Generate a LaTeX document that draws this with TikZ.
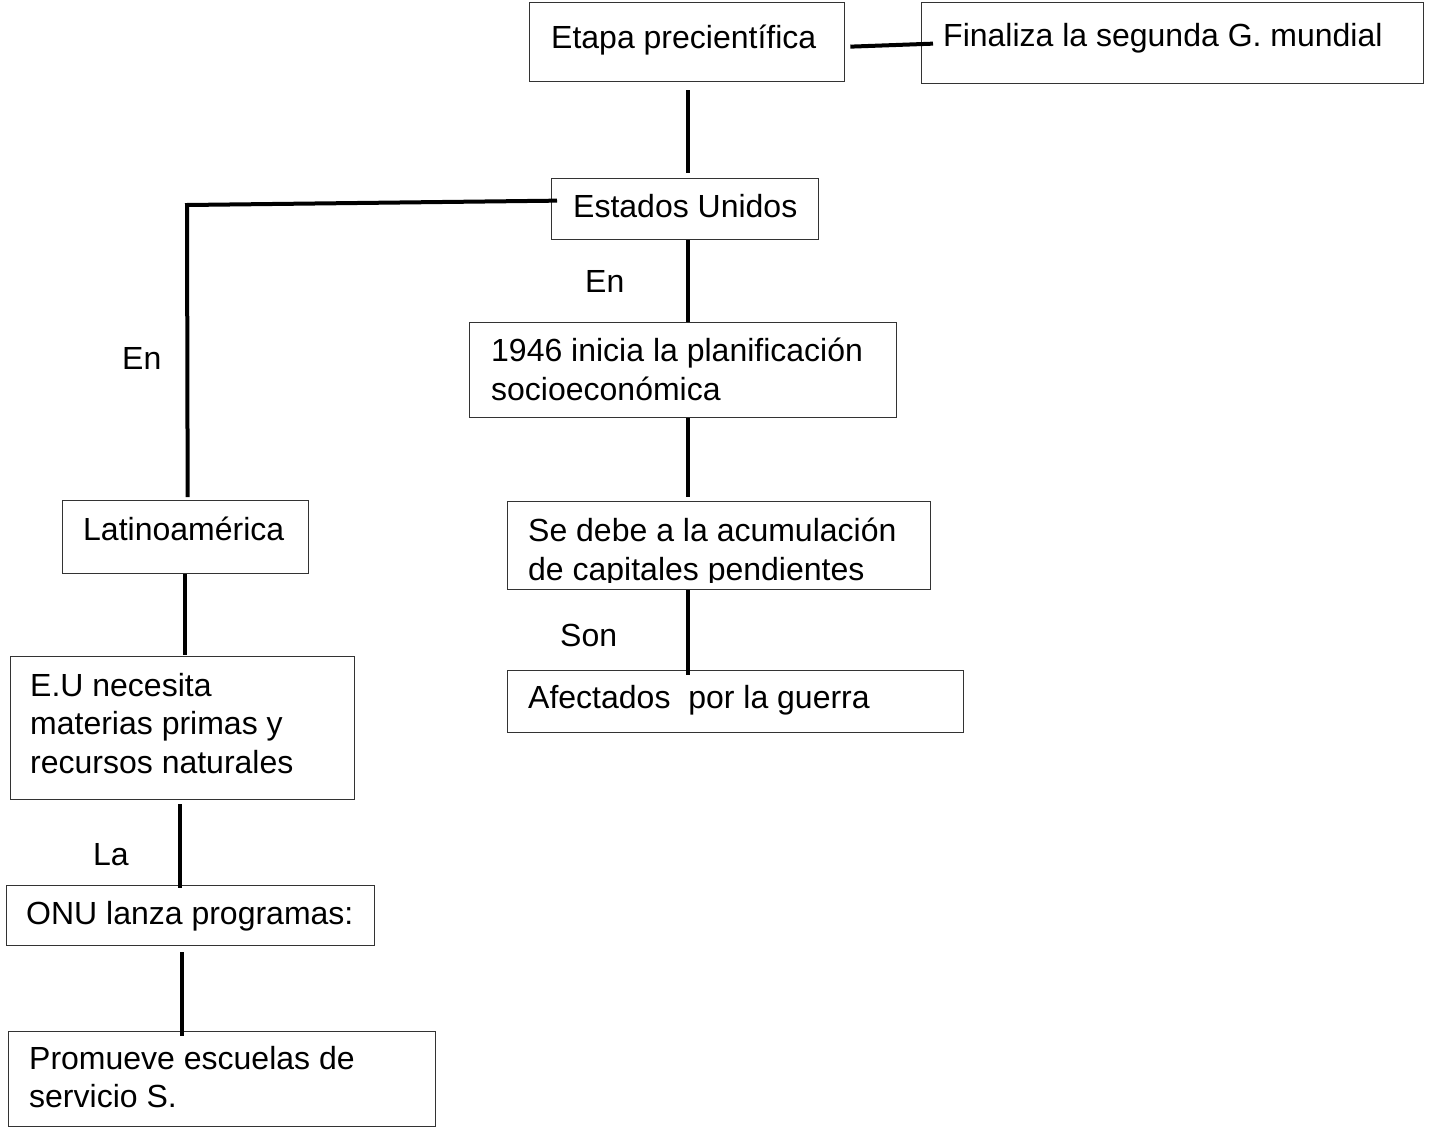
\documentclass[tikz,border=0pt]{standalone}
\usepackage{fontspec}
\setmainfont{Liberation Sans}
\usetikzlibrary{calc}
\begin{document}
\begin{tikzpicture}[x=1pt,y=-1pt,
  box/.style={draw=black!80,line width=1.3pt,rectangle,inner sep=0pt,anchor=north west},
  txt/.style={anchor=base west,inner sep=0pt,font=\fontsize{32}{38.5}\selectfont,align=left},
  conn/.style={line width=4pt,black}]
\useasboundingbox[fill=white] (0,0) rectangle (1432,1127);
% boxes
\node[box,minimum width=315,minimum height=79] (etapa) at (529,2) {};
\node[box,minimum width=502,minimum height=81] (finaliza) at (921,2) {};
\node[box,minimum width=267,minimum height=61] (estados) at (551,178) {};
\node[box,minimum width=427,minimum height=95] (p1946) at (469,322) {};
\node[box,minimum width=423,minimum height=88] (sedebe) at (507,501) {};
\node[box,minimum width=456,minimum height=62] (afect) at (507,670) {};
\node[box,minimum width=246,minimum height=73] (lat) at (62,500) {};
\node[box,minimum width=344,minimum height=143] (eu) at (10,656) {};
\node[box,minimum width=368,minimum height=60] (onu) at (6,885) {};
\node[box,minimum width=427,minimum height=95] (prom) at (8,1031) {};
% texts
\node[txt] (etapaT) at (551,48) {Etapa precientífica};
\node[txt] (finalizaT) at (943,46) {Finaliza la segunda G. mundial};
\node[txt] (estadosT) at (573,217) {Estados Unidos};
\node[txt,anchor=north west] (p1946T) at (491,338) {1946 inicia la planificación\\socioeconómica};
\begin{scope}
\clip (507,501) rectangle (930,582.5);
\node[txt,anchor=north west] (sedebeT) at (528,518) {Se debe a la acumulación\\de capitales pendientes};
\end{scope}
\node[txt] (afectT) at (528,708) {Afectados\ \ por la guerra};
\node[txt] (latT) at (83,540) {Latinoamérica};
\node[txt,anchor=north west] (euT) at (30,673) {E.U necesita\\materias primas y\\recursos naturales};
\node[txt] (onuT) at (26,924) {ONU lanza programas:};
\node[txt,anchor=north west] (promT) at (29,1046) {Promueve escuelas de\\servicio S.};
% connector labels
\node[txt] (en1) at (122,369) {En};
\node[txt] (en2) at (585,292) {En};
\node[txt] (son) at (560,646) {Son};
\node[txt] (la) at (93,865) {La};
% connectors
\coordinate (corner) at (187,205);
\draw[conn] ($(etapa.east)+(5,4.5)$) -- ($(finaliza.west)+(12,0.5)$);
\draw[conn] ($(etapa.south)+(0.5,8)$) -- ($(estados.north)+(2.5,-5)$);
\draw[conn] ($(estados.west)+(6,-8.5)$) -- (corner) -- ($(lat.north)+(2,-3)$);
\draw[conn] ($(estados.south)+(2.5,0)$) -- ($(p1946.north)+(4.5,0)$);
\draw[conn] ($(p1946.south)+(4.5,0)$) -- ($(sedebe.north)+(-31.5,-4)$);
\draw[conn] ($(sedebe.south)+(-31.5,0)$) -- ($(afect.north)+(-48,5)$);
\draw[conn] ($(lat.south)+(-1,0)$) -- ($(eu.north)+(2,-1)$);
\draw[conn] ($(eu.south)+(-3,4)$) -- ($(onu.north)+(-11,3)$);
\draw[conn] ($(onu.south)+(-9,6)$) -- ($(prom.north)+(-40.5,5)$);
\end{tikzpicture}
\end{document}
